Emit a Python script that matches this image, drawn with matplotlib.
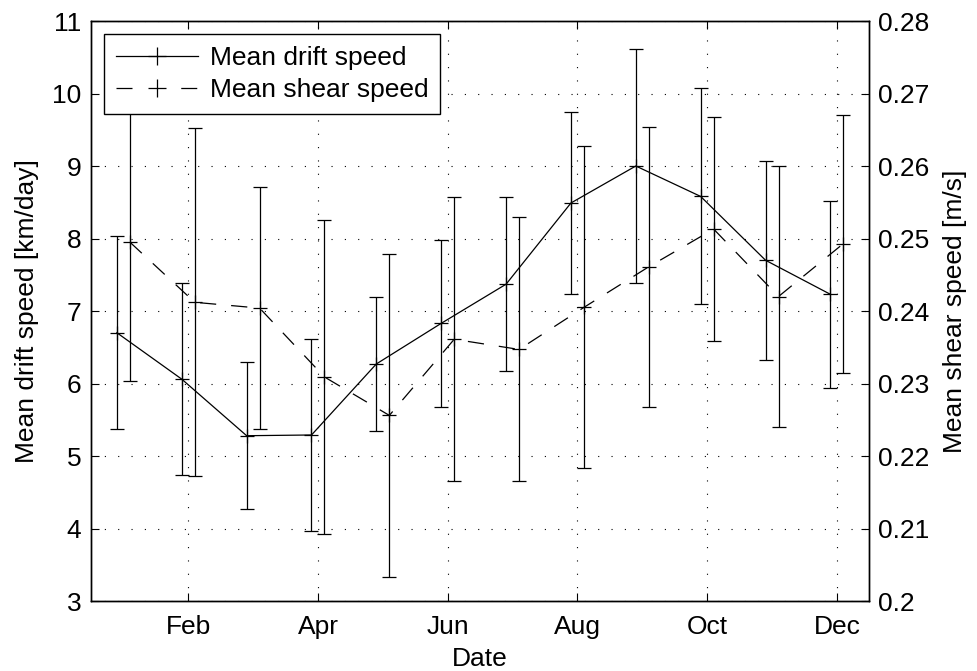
import matplotlib
matplotlib.use("Agg")
import matplotlib.pyplot as plt
from matplotlib.lines import Line2D
import numpy as np

plt.rcParams['font.family'] = ['Liberation Sans', 'DejaVu Sans']

months = np.arange(1, 13)
month_ticks = [2, 4, 6, 8, 10, 12]
month_labels = ['Feb', 'Apr', 'Jun', 'Aug', 'Oct', 'Dec']

drift_mean = [6.70, 6.06, 5.28, 5.29, 6.27, 6.83, 7.37, 8.49, 9.00, 8.58, 7.70, 7.23]
drift_std = [1.33, 1.32, 1.01, 1.33, 0.92, 1.15, 1.20, 1.26, 1.62, 1.49, 1.37, 1.29]

shear_mean = [0.2495, 0.2412, 0.2404, 0.2309, 0.2256, 0.2361, 0.2347, 0.2405,
              0.2461, 0.2513, 0.2420, 0.2493]
shear_std = [0.0192, 0.0240, 0.0167, 0.0216, 0.0223, 0.0196, 0.0182, 0.0222,
             0.0193, 0.0155, 0.0180, 0.0178]

fig = plt.figure(figsize=(9.77, 6.71), dpi=100)
ax = fig.add_axes([0.0931, 0.1043, 0.7967, 0.8644])
ax2 = ax.twinx()

lw = 0.9
dash = (0, (13, 12))
ax.errorbar(months - 0.1, drift_mean, yerr=drift_std, color='black',
            linestyle='-', linewidth=lw, marker='+', markersize=10,
            markeredgewidth=lw, elinewidth=lw, capsize=4.7, capthick=lw)
ax2.errorbar(months + 0.1, shear_mean, yerr=shear_std, color='black',
             linestyle=dash, linewidth=lw, marker='+', markersize=10,
             markeredgewidth=lw, elinewidth=lw, capsize=4.7, capthick=lw)

ax.set_xlim(0.5, 12.5)
ax.set_ylim(3, 11)
ax2.set_ylim(0.2, 0.28)
ax.set_xticks(month_ticks)
ax.set_xticklabels(month_labels)
ax.set_yticks(np.arange(3, 12, 1))
ax2.set_yticks(np.arange(0.2, 0.2801, 0.01))
ax2.set_yticklabels(['0.2', '0.21', '0.22', '0.23', '0.24', '0.25', '0.26', '0.27', '0.28'])

fs = 19
ax.tick_params(axis='y', direction='in', labelsize=fs, length=6, width=0.8, pad=7)
ax.tick_params(axis='x', direction='in', labelsize=fs, length=6, width=0.8, pad=10,
               top=True)
ax2.tick_params(axis='y', direction='in', labelsize=fs, length=6, width=0.8, pad=6)

ax.grid(True, linestyle=(0, (1, 11)), color='black', linewidth=0.8)

ax.set_xlabel('Date', fontsize=fs, labelpad=6)
ax.set_ylabel('Mean drift speed [km/day]', fontsize=fs, labelpad=9)
ax2.set_ylabel('Mean shear speed [m/s]', fontsize=fs, labelpad=10)

for a in (ax, ax2):
    for s in a.spines.values():
        s.set_linewidth(1.0)
        s.set_color('black')

p1 = Line2D([], [], color='black', linestyle='-', linewidth=lw, marker='+',
            markersize=13, markeredgewidth=lw)
p2 = Line2D([], [], color='black', linestyle=(0, (12.8, 39)), linewidth=lw, marker='+',
            markersize=13, markeredgewidth=lw)
leg = ax2.legend([p1, p2], ['Mean drift speed', 'Mean shear speed'],
                 loc='upper left', fontsize=fs, frameon=True, fancybox=False,
                 edgecolor='black', framealpha=1, handlelength=3.1,
                 borderpad=0.45, labelspacing=0.3, handletextpad=0.45,
                 borderaxespad=0.5)
leg.get_frame().set_linewidth(1.0)

fig.savefig('out.png', dpi=100)
